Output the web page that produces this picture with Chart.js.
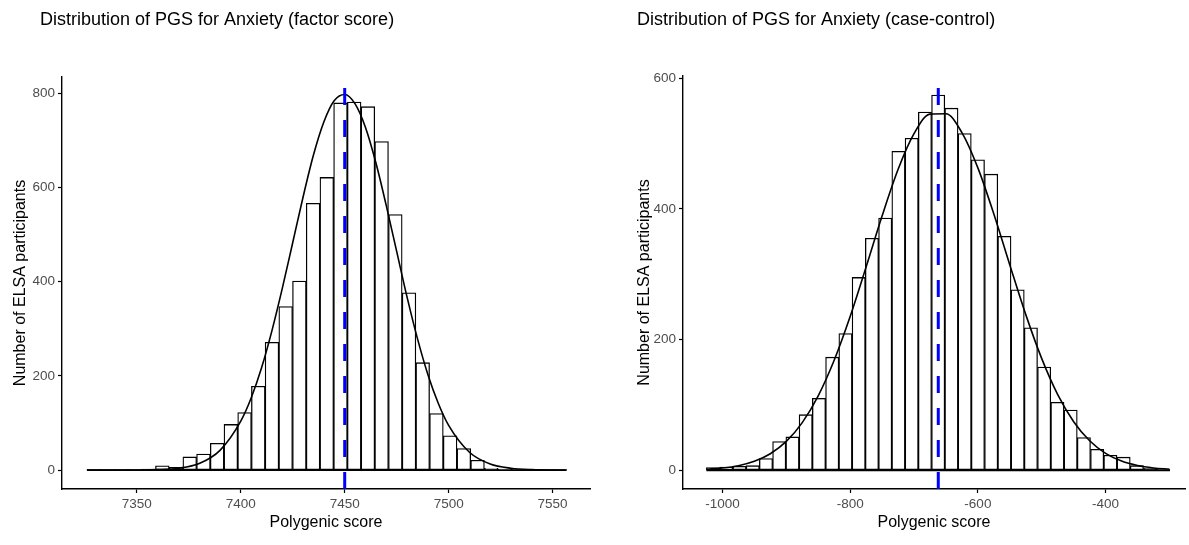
<!DOCTYPE html>
<html lang="en">
<head>
<meta charset="UTF-8">
<title>Distribution of PGS for Anxiety</title>
<script src="https://cdn.jsdelivr.net/npm/chart.js"></script>
<style>
    body {
        margin: 0;
        background: #fff;
    }

    .panel {
        position: absolute;
        top: 0;
    }

    #left { left: 0; }
    #right { left: 600px; }
</style>
</head>
<body>
<div class="panel" id="left"><canvas id="factorChart" width="600" height="545"></canvas></div>
<div class="panel" id="right"><canvas id="caseChart" width="589" height="545"></canvas></div>

<script>
    // --- PGS, factor score: 35 equal bins ---
    const factorBinStart = 7326.0;
    const factorBinWidth = 6.593;
    const factorCounts = [1, 0, 1, 1, 2, 9, 6, 28, 34, 57, 97, 122, 178, 271, 347, 401, 566, 621,
        779, 781, 771, 697, 542, 376, 228, 120, 73, 46, 21, 4, 2, 1, 1, 0, 1];
    const factorMean = 7450;
    // fitted normal curve (scaled to counts)
    const factorCurveX = [7326, 7340, 7350, 7360, 7370, 7380, 7390, 7400, 7405, 7410, 7415, 7420, 7425,
        7430, 7435, 7440, 7445, 7450, 7455, 7460, 7465, 7470, 7475, 7480, 7485, 7490, 7495, 7500,
        7510, 7520, 7530, 7540, 7556];
    const factorCurveY = [0, 0, 0.2, 1, 4, 14, 42, 104, 153, 217, 296, 386, 483,
        580, 669, 739, 784, 797, 777, 727, 652, 561, 464, 367, 279, 203, 142, 95,
        38, 13, 4, 1, 0];
    const factorXTicks = [7350, 7400, 7450, 7500, 7550];
    const factorYTicks = [0, 200, 400, 600, 800];

    // --- PGS, case-control: 35 equal bins ---
    const ccBinStart = -1025.1;
    const ccBinWidth = 20.74;
    const ccCounts = [4, 5, 6, 7, 18, 44, 51, 85, 110, 173, 209, 295, 355, 386, 488, 508, 548, 574,
        554, 515, 475, 453, 358, 276, 218, 158, 104, 92, 50, 32, 23, 20, 7, 3, 1];
    const ccMean = -662;
    const ccCurveX = [-1025, -1000, -975, -950, -925, -900, -875, -850, -825, -800, -775, -750, -725,
        -700, -675, -650, -625, -600, -575, -550, -525, -500, -475, -450, -425, -400, -375, -350,
        -325, -300];
    const ccCurveY = [1.6, 3.4, 7, 13.7, 25.3, 44.2, 72.9, 113.9, 168.3, 235.2, 311.1, 389, 460.1,
        514.9, 544.9, 545.5, 516.6, 462.6, 392, 314.1, 238.1, 170.8, 115.8, 74.3, 45.1, 25.9, 14,
        7.2, 3.5, 1.6];
    const ccXTicks = [-1000, -800, -600, -400];
    const ccYTicks = [0, 200, 400, 600];

    const FONT = '"Liberation Sans", Arial, sans-serif';

    // plot title, left aligned above the panel
    function panelTitle(text, x) {
        return {
            id: 'panelTitle',
            afterDraw(chart) {
                const ctx = chart.ctx;
                ctx.save();
                ctx.font = '18px ' + FONT;
                ctx.fillStyle = '#000';
                ctx.textBaseline = 'middle';
                ctx.fillText(text, x, 20);
                ctx.restore();
            }
        };
    }

    function axisOpts(o) {
        return {
            type: 'linear',
            min: o.min,
            max: o.max,
            offset: false,
            afterBuildTicks: s => { s.ticks = o.ticks.map(v => ({ value: v })); },
            afterFit: o.fit,
            grid: { display: true, offset: false, drawOnChartArea: false, drawTicks: true, tickLength: 4, color: '#000', tickWidth: 1.2 },
            border: { display: true, color: '#000', width: 1.4 },
            ticks: {
                color: '#4d4d4d', font: { family: FONT, size: 13.5 }, padding: 3,
                maxRotation: 0, autoSkip: false,
                callback: v => String(v)   // no thousands separator
            },
            title: { display: true, text: o.title, color: '#000', font: { family: FONT, size: 16 }, padding: o.titlePad }
        };
    }

    function histChart(id, o) {
        const bars = o.counts.map((c, i) => ({ x: o.binStart + o.binWidth * (i + 0.5), y: c }));
        const binEnd = o.binStart + o.binWidth * o.counts.length;
        const curve = o.curveX.map((x, i) => ({ x: x, y: o.curveY[i] }));

        return new Chart(document.getElementById(id), {
            type: 'bar',
            data: {
                datasets: [
                    { // mean, dashed from the bottom up
                        type: 'line',
                        data: [{ x: o.mean, y: o.yMin }, { x: o.mean, y: o.yMax }],
                        borderColor: '#0000ff', borderWidth: 3, borderDash: [17, 15],
                        pointRadius: 0, order: 0
                    },
                    {
                        type: 'line',
                        data: curve,
                        borderColor: '#000', borderWidth: 1.6, pointRadius: 0,
                        cubicInterpolationMode: 'monotone', order: 1
                    },
                    { // zero-height bins show as a flat line
                        type: 'line',
                        data: [{ x: o.binStart, y: 0 }, { x: binEnd, y: 0 }],
                        borderColor: '#000', borderWidth: 1.8, pointRadius: 0, order: 2
                    },
                    {
                        data: bars,
                        backgroundColor: '#fff', borderColor: '#000', borderWidth: 1.3,
                        borderSkipped: false, barPercentage: 1, categoryPercentage: 1, order: 3
                    }
                ]
            },
            options: {
                responsive: false,
                animation: false,
                layout: { padding: o.padding },
                plugins: { legend: { display: false }, tooltip: { enabled: false } },
                scales: {
                    x: axisOpts({
                        min: o.xMin, max: o.xMax, ticks: o.xTicks, title: 'Polygenic score',
                        fit: s => { s.height = 56; }, titlePad: { top: 0, bottom: 13 }
                    }),
                    y: axisOpts({
                        min: o.yMin, max: o.yMax, ticks: o.yTicks, title: 'Number of ELSA participants',
                        fit: s => { s.width = o.yAxisWidth; }, titlePad: { top: o.yTitlePad, bottom: 0 }
                    })
                }
            },
            plugins: [panelTitle(o.title, o.titleX)]
        });
    }

    histChart('factorChart', {
        counts: factorCounts, binStart: factorBinStart, binWidth: factorBinWidth,
        curveX: factorCurveX, curveY: factorCurveY, mean: factorMean,
        xTicks: factorXTicks, yTicks: factorYTicks,
        xMin: 7314, xMax: 7568, yMin: -40, yMax: 834,
        title: 'Distribution of PGS for Anxiety (factor score)', titleX: 40,
        yAxisWidth: 62, yTitlePad: 10.5,
        padding: { top: 77, right: 10, bottom: 0, left: 0 }
    });

    histChart('caseChart', {
        counts: ccCounts, binStart: ccBinStart, binWidth: ccBinWidth,
        curveX: ccCurveX, curveY: ccCurveY, mean: ccMean,
        xTicks: ccXTicks, yTicks: ccYTicks,
        xMin: -1061.7, xMax: -275.7, yMin: -28.7, yMax: 603.2,
        title: 'Distribution of PGS for Anxiety (case-control)', titleX: 37,
        yAxisWidth: 83, yTitlePad: 35,
        padding: { top: 76, right: 4, bottom: 0, left: 0 }
    });
</script>
</body>
</html>
